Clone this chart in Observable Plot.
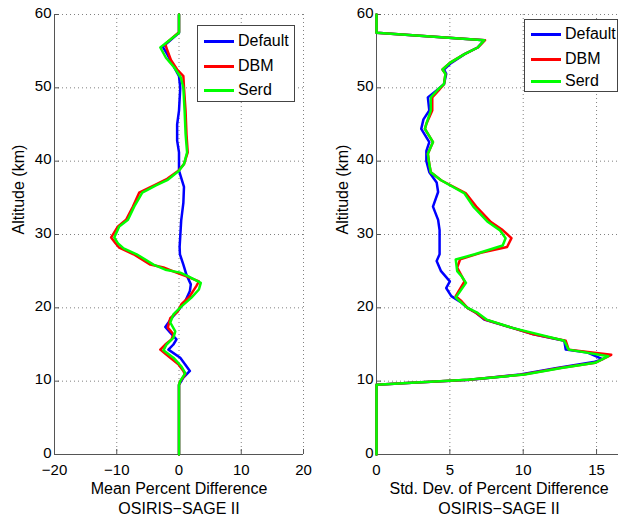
<!DOCTYPE html>
<html><head><meta charset="utf-8">
<script src="https://cdn.jsdelivr.net/npm/d3@7"></script>
<script src="https://cdn.jsdelivr.net/npm/@observablehq/plot@0.6"></script>
<style>
body{margin:0;background:#fff;overflow:hidden}
#wrap{position:relative;width:618px;height:521px;overflow:hidden;font-family:"Liberation Sans",Arial,sans-serif}
.panel{position:absolute;top:0}
.legend{position:absolute;background:#fff;border:1px solid #444;box-sizing:border-box}
.legend .row{position:absolute;left:0;font-size:16px;line-height:16px;color:#000;white-space:nowrap}
.legend .sw{position:absolute;left:6px;width:30px;height:3px}
.legend .lb{position:absolute;left:40px;top:-8px}
</style></head><body><div id="wrap"></div>
<script>
const seriesNames = ["Default", "DBM", "Serd"];
const seriesColors = ["#0000ff", "#ff0000", "#00ff00"];
const meanTicksX = [-20, -10, 0, 10, 20];
const stdTicksX = [0, 5, 10, 15];
const altTicks = [0, 10, 20, 30, 40, 50, 60];
const meanLabels = ["Mean Percent Difference", "OSIRIS\u2212SAGE II"];
const stdLabels = ["Std. Dev. of Percent Difference", "OSIRIS\u2212SAGE II"];
const yLabel = "Altitude (km)";

// [altitude km, value]
const meanDefault = [[60,0],[57.5,0],[55.6,-2.6],[54.6,-1.9],[51.6,0],[50,0.2],[46.9,0],[45,-0.3],[42.8,-0.3],[41.2,0],[38.7,0],[36.5,0.8],[34.3,0.7],[31.9,0.35],[28.3,0.1],[27.3,0.15],[25.9,0.7],[24.5,1.2],[23.2,1.9],[22.3,1.75],[20.9,1],[20,0.2],[18.6,-1.2],[17.4,-2.2],[16.6,-1.4],[15.7,-0.4],[15,-0.9],[14.3,-1.7],[13.2,0.2],[11.4,1.75],[10.5,0.7],[9.5,0],[0,0]];
const meanDBM = [[60,0],[57.6,0],[56,-2.2],[55.4,-2.0],[53.8,-1.3],[52.5,-0.3],[51.6,0.7],[50,0.8],[46.9,1.05],[43.7,1.2],[41.2,1.4],[39.6,0.8],[38.7,-0.1],[37.6,-1.9],[36.7,-4.0],[35.7,-6.4],[33.8,-7.4],[32,-8.5],[31.1,-9.8],[29.6,-10.9],[28.8,-10.2],[28.2,-9.6],[27.3,-7.3],[25.9,-4.6],[25.5,-2.5],[24.8,-0.4],[24.3,1.2],[23.6,3.2],[23,2.8],[21.6,1.75],[20.5,0.4],[19.5,-0.2],[18.6,-1.4],[17.3,-1.8],[16.4,-0.9],[15.7,-1.2],[15,-2.2],[14.3,-3.0],[13.4,-1.7],[12.3,-0.1],[11.4,0.7],[10.9,1.0],[10,0.2],[9.5,0],[0,0]];
const meanSerd = [[60,0],[57.5,0],[55.5,-3.0],[54.1,-2.1],[52.8,-0.8],[51.4,0.3],[50,0.7],[46.9,0.9],[43.7,1.06],[41.2,1.3],[39.6,0.8],[38.7,0],[37.4,-1.9],[36.7,-3.7],[35.7,-5.9],[33.8,-7.2],[32,-8.2],[31.1,-9.6],[29.6,-10.4],[28.8,-9.8],[28.1,-8.9],[27.3,-6.8],[25.9,-4.1],[25.2,-2.2],[24.8,0.2],[24.3,1.5],[23.4,3.5],[22.5,3.2],[21.4,2],[20.2,0.4],[19.1,-0.9],[18,-1.4],[16.8,-0.6],[15.9,-0.9],[15,-2.0],[14.2,-2.5],[13.2,-0.9],[12,0.4],[11.1,1.0],[10,0.2],[9.5,0],[0,0]];

const stdDefault = [[60,0],[57.5,0],[56.5,7.35],[55.5,6.9],[54.6,6.0],[53.4,5.1],[52.5,4.6],[51.9,4.75],[50.5,4.6],[49.8,4.2],[48.7,3.5],[46.9,3.6],[45.7,3.2],[44.4,3.05],[42.6,3.6],[41.4,3.4],[40,3.4],[38.5,3.6],[37.1,4.1],[35.8,4.2],[33.8,3.85],[32,4.2],[30.6,4.3],[27.3,4.3],[26.4,4.1],[25,4.4],[23.6,5.0],[22.7,4.75],[21.6,5.1],[20.7,5.8],[20,6.2],[19.3,6.8],[18.4,7.35],[17.3,9.2],[16.4,10.7],[15.5,12.8],[14.3,12.9],[13.9,14.4],[13,15.4],[12.6,14.8],[11.8,12.3],[10.9,9.8],[10.2,6.4],[9.8,2.4],[9.5,0],[0,0]];
const stdDBM = [[60,0],[57.5,0],[56.5,7.4],[55.5,6.9],[54.6,6.0],[53.4,5.0],[52.5,4.5],[51.9,4.7],[50.5,4.6],[49.8,4.3],[48.7,3.8],[46.9,3.8],[45.1,3.4],[44.4,3.3],[42.6,3.85],[41,3.5],[39.6,3.6],[38.5,3.7],[37.4,4.4],[35.6,6.1],[33.8,6.8],[31.7,7.8],[30.6,8.6],[29.5,9.2],[28.3,8.9],[27.5,7.1],[26.6,5.7],[25.5,5.5],[23.6,6.0],[21.6,5.4],[20.9,5.8],[20,6.2],[19.3,6.8],[18.4,7.4],[17.3,9.2],[16.4,10.7],[15.5,12.9],[14.3,13.1],[13.6,16.0],[12.5,14.9],[11.8,12.5],[10.9,10],[10.2,6.3],[9.8,2.4],[9.5,0],[0,0]];
const stdSerd = [[60,0],[57.5,0],[56.5,7.35],[55.5,6.9],[54.6,6.0],[53.4,5.0],[52.5,4.5],[51.9,4.7],[50.5,4.6],[49.8,4.2],[48.7,3.7],[46.9,3.7],[45.1,3.4],[44.4,3.3],[42.6,3.85],[41,3.5],[39.6,3.6],[38.5,3.7],[37.4,4.4],[35.6,6.0],[33.8,6.6],[31.7,7.6],[30.6,8.4],[29.5,8.8],[28.5,8.6],[27.3,6.7],[26.6,5.4],[25,5.5],[24.3,5.8],[23.4,6.1],[21.4,5.4],[20.7,5.8],[20,6.2],[19.3,6.9],[18.4,7.5],[17.3,9.2],[15.5,12.8],[14.3,13.1],[13.4,15.8],[12.5,14.9],[11.8,12.6],[10.9,10.1],[10.2,6.2],[9.8,2.4],[9.5,0],[0,0]];

const FONT = '"Liberation Sans", Arial, Helvetica, sans-serif';
const H = 521, MT = 14, MB = 67;

function panel({series, xDomain, xTicks, width, marginLeft, marginRight, labels, yLabelDx}) {
  const fw = width - marginLeft - marginRight;
  const fh = H - MT - MB;
  const grid = {stroke: "#808080", strokeOpacity: 1, strokeDasharray: "1,3", strokeWidth: 1};
  return Plot.plot({
    width, height: H, marginLeft, marginRight, marginTop: MT, marginBottom: MB,
    style: {fontFamily: FONT, fontSize: "16px", color: "#000", background: "transparent", overflow: "visible"},
    x: {domain: xDomain, ticks: xTicks, label: null},
    y: {domain: [0, 60], ticks: altTicks, label: null},
    marks: [
      Plot.gridX(xTicks, grid),
      Plot.gridY(altTicks, grid),
      Plot.ruleX([xDomain[0]], {stroke: "#555"}),
      Plot.ruleY([0], {stroke: "#555"}),
      Plot.tickX(xTicks, {x: d => d, stroke: "#555", insetTop: fh - 5}),
      Plot.tickY(altTicks, {y: d => d, stroke: "#555", insetRight: fw - 5}),
      Plot.axisX(xTicks, {tickSize: 0, tickPadding: 10, label: null, fontSize: 15}),
      Plot.axisY(altTicks, {tickSize: 0, tickPadding: 3, dy: -1.5, label: null, fontSize: 15}),
      ...series.map((s, i) => Plot.line(s, {x: d => d[1], y: d => d[0], stroke: seriesColors[i], strokeWidth: 2.5, curve: "linear"})),
      Plot.text([labels[0]], {text: d => d, frameAnchor: "bottom", dy: 34, lineAnchor: "middle", fontSize: 16}),
      Plot.text([labels[1]], {text: d => d, frameAnchor: "bottom", dy: 54, lineAnchor: "middle", fontSize: 16}),
      Plot.text([yLabel], {text: d => d, frameAnchor: "left", dx: yLabelDx, rotate: -90, fontSize: 16})
    ]
  });
}

const wrap = document.getElementById("wrap");
const left = panel({series: [meanDefault, meanDBM, meanSerd], xDomain: [-20, 20], xTicks: meanTicksX, width: 310, marginLeft: 54, marginRight: 7, labels: meanLabels, yLabelDx: -36});
left.classList.add("panel"); left.style.left = "0px";
wrap.appendChild(left);
const right = panel({series: [stdDefault, stdDBM, stdSerd], xDomain: [0, 16.7], xTicks: stdTicksX, width: 311, marginLeft: 66, marginRight: 0, labels: stdLabels, yLabelDx: -34});
right.classList.add("panel"); right.style.left = "310px";
wrap.appendChild(right);

function legend(x, y, w, h, rows) {
  const lg = d3.select(wrap).append("div").attr("class", "legend")
    .style("left", x + "px").style("top", y + "px").style("width", w + "px").style("height", h + "px");
  seriesNames.forEach((n, i) => {
    const r = lg.append("div").attr("class", "row").style("top", rows[i] + "px");
    r.append("div").attr("class", "sw").style("background", seriesColors[i]).style("top", "-1.5px");
    r.append("div").attr("class", "lb").text(n);
  });
}
legend(197, 25, 98, 77, [15, 40, 64]);
legend(524, 19, 94, 73, [14, 39, 61]);
</script></body></html>
